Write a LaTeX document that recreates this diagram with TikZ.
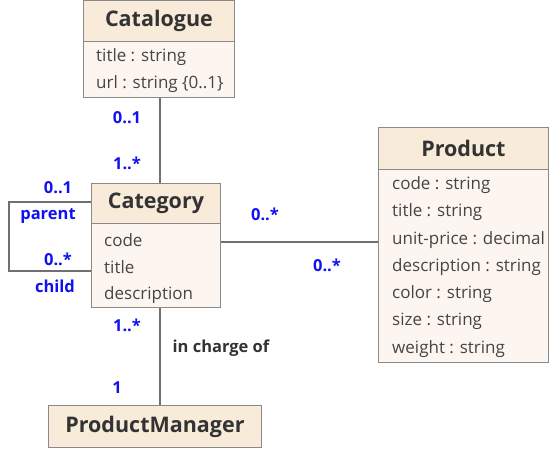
\documentclass[tikz,border=0pt]{standalone}
\usepackage{fontspec}
\setmainfont{Open Sans}
\begin{document}
\begin{tikzpicture}[x=1pt,y=1pt,
  hdr/.style={draw=boxline, fill=hdrfill, line width=0.9pt, anchor=north west, inner sep=0pt},
  bdy/.style={draw=boxline, fill=bdyfill, line width=0.9pt, anchor=north west, inner sep=0pt},
  ttl/.style={font=\fontsize{21.5}{21.5}\selectfont\bfseries, text=txt, inner sep=0pt},
  attr/.style={font=\fontsize{17}{17}\selectfont, text=attrtxt, anchor=west, inner sep=0pt},
  mult/.style={font=\fontsize{16.5}{16.5}\selectfont\bfseries, text=multblue, inner sep=0pt},
  assoc/.style={draw=linegray, line width=1.2pt},
]
\definecolor{hdrfill}{HTML}{F8EBDA}
\definecolor{bdyfill}{HTML}{FDF5F0}
\definecolor{boxline}{HTML}{8A8A8A}
\definecolor{linegray}{HTML}{707070}
\definecolor{txt}{HTML}{333333}
\definecolor{attrtxt}{HTML}{454545}
\definecolor{multblue}{HTML}{1010F0}
\useasboundingbox (0,0) rectangle (549,450);
% Catalogue
\node[hdr, minimum width=151, minimum height=41] (cath) at (83,450) {};
\node[ttl] (catt) at (cath.center) {Catalogue};
\node[bdy, minimum width=151, minimum height=56] (catb) at (83,409) {};
\node[attr] (cata1) at (96,393) {title : string};
\node[attr] (cata2) at (96,366) {url : string \{0..1\}};
% Category
\node[hdr, minimum width=129, minimum height=40] (cgh) at (91,267) {};
\node[ttl] (cgt) at (cgh.center) {Category};
\node[bdy, minimum width=129, minimum height=84] (cgb) at (91,227) {};
\node[attr] (cga1) at (104,210) {code};
\node[attr] (cga2) at (104,183) {title};
\node[attr] (cga3) at (104,155) {description};
% Product
\node[hdr, minimum width=170, minimum height=42] (prh) at (378,323) {};
\node[ttl] (prt) at (prh.center) {Product};
\node[bdy, minimum width=170, minimum height=193] (prb) at (378,281) {};
\node[attr] (pra1) at (392,265) {code : string};
\node[attr] (pra2) at (392,238) {title : string};
\node[attr] (pra3) at (392,210) {unit-price : decimal};
\node[attr] (pra4) at (392,183) {description : string};
\node[attr] (pra5) at (392,156) {color : string};
\node[attr] (pra6) at (392,129) {size : string};
\node[attr] (pra7) at (392,101) {weight : string};
% ProductManager
\node[hdr, minimum width=213, minimum height=42] (pmh) at (48,45) {};
\node[ttl] (pmt) at (pmh.center) {ProductManager};
% connector coordinates
\coordinate (vx) at (160,0);
\coordinate (hy) at (0,208);
\coordinate (lp) at (9,248);
\coordinate (lc) at (9,179);
% associations
\draw[assoc] (catb.south -| vx) -- (cgh.north -| vx);
\draw[assoc] (cgb.east |- hy) -- (prb.west |- hy);
\draw[assoc] (cgb.south -| vx) -- (pmh.north -| vx);
\draw[assoc] (cgh.west |- lp) -- (lp) -- (lc) -- (cgb.west |- lc);
% multiplicities
\node[mult] (m1) at (127,332) {0..1};
\node[mult] (m2) at (127,287) {1..*};
\node[mult] (m3) at (58,262) {0..1};
\node[mult] (m4) at (48,234) {parent};
\node[mult] (m5) at (58,191) {0..*};
\node[mult] (m6) at (55,164) {child};
\node[mult] (m7) at (265,236) {0..*};
\node[mult] (m8) at (327,185) {0..*};
\node[mult] (m9) at (127,125) {1..*};
\node[mult] (m10) at (117,62) {1};
\node[font=\fontsize{16.5}{16.5}\selectfont\bfseries, text=txt, inner sep=0pt] (lab) at (221,102) {in charge of};
\end{tikzpicture}
\end{document}
